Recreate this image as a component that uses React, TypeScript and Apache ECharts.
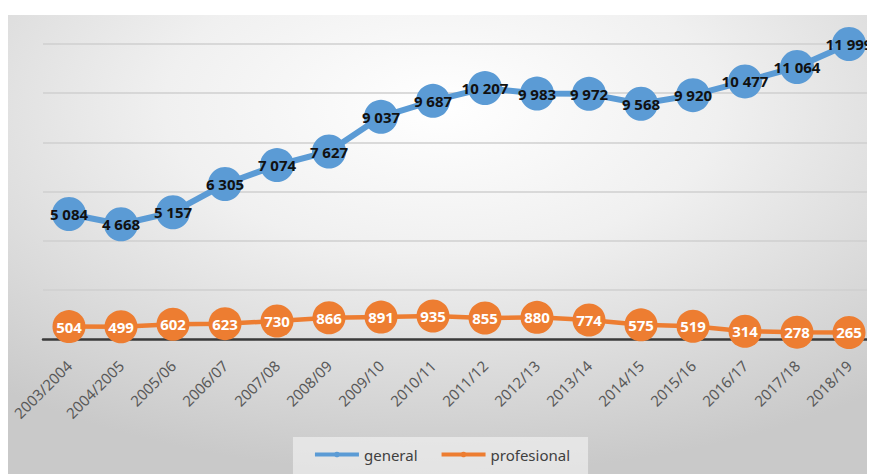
import React, { useEffect, useRef } from "react";
import * as echarts from "echarts";

const categories = [
  "2003/2004", "2004/2005", "2005/06", "2006/07", "2007/08", "2008/09", "2009/10", "2010/11",
  "2011/12", "2012/13", "2013/14", "2014/15", "2015/16", "2016/17", "2017/18", "2018/19",
];
const generalValues = [5084, 4668, 5157, 6305, 7074, 7627, 9037, 9687, 10207, 9983, 9972, 9568, 9920, 10477, 11064, 11999];
const profesionalValues = [504, 499, 602, 623, 730, 866, 891, 935, 855, 880, 774, 575, 519, 314, 278, 265];
const seriesNames = ["general", "profesional"];

const fmt = (v: number) => {
  const s = String(v);
  return s.length > 3 ? s.slice(0, s.length - 3) + " " + s.slice(s.length - 3) : s;
};

export default function App() {
  const ref = useRef<HTMLDivElement>(null);
  useEffect(() => {
    if (!ref.current) return;
    const chart = echarts.init(ref.current, null, { renderer: "svg" });
    const font = "'Noto Sans', 'Open Sans', sans-serif";
    chart.setOption({
      animation: false,
      graphic: [
        {
          type: "rect",
          z: -10,
          silent: true,
          shape: { x: 0, y: 7, width: 867, height: 459 },
          style: {
            fill: new echarts.graphic.RadialGradient(0.5, 0.2, 0.8, [
              { offset: 0, color: "#ffffff" },
              { offset: 0.4, color: "#f0f0f0" },
              { offset: 1, color: "#c9c9c9" },
            ]),
          },
        },
      ],
      grid: { left: 35, right: 0, top: 36, bottom: 135, containLabel: false },
      legend: {
        bottom: 0,
        left: "center",
        itemWidth: 44,
        itemHeight: 7,
        itemGap: 22,
        padding: [10, 18, 12, 20],
        backgroundColor: "rgba(245,245,245,0.6)",
        lineStyle: { width: 4 },
        textStyle: { fontFamily: font, fontSize: 15, color: "#404040" },
        data: seriesNames,
      },
      xAxis: {
        type: "category",
        data: categories,
        boundaryGap: true,
        axisLine: { lineStyle: { color: "#3a3a3a", width: 2.5 } },
        axisTick: { show: false },
        axisLabel: {
          rotate: 45,
          margin: 24,
          interval: 0,
          fontFamily: font,
          fontSize: 15,
          color: "#595959",
        },
      },
      yAxis: {
        type: "value",
        min: 0,
        max: 12000,
        interval: 2000,
        axisLabel: { show: false },
        axisLine: { show: false },
        axisTick: { show: false },
        splitLine: { lineStyle: { color: "#cfcfcf", width: 1.5 } },
      },
      series: [
        {
          name: seriesNames[0],
          type: "line",
          data: generalValues,
          symbol: "circle",
          symbolSize: 34,
          lineStyle: { color: "#5B9BD5", width: 6 },
          itemStyle: { color: "#5B9BD5" },
          label: {
            show: true,
            position: "inside",
            formatter: (p: any) => fmt(p.value),
            fontFamily: font,
            fontWeight: "bold",
            fontSize: 15,
            color: "#111111",
          },
          z: 3,
        },
        {
          name: seriesNames[1],
          type: "line",
          data: profesionalValues,
          symbol: "circle",
          symbolSize: 33,
          lineStyle: { color: "#ED7D31", width: 4.5 },
          itemStyle: { color: "#ED7D31" },
          label: {
            show: true,
            position: "inside",
            formatter: (p: any) => fmt(p.value),
            fontFamily: font,
            fontWeight: "bold",
            fontSize: 15,
            color: "#ffffff",
          },
          z: 4,
        },
      ],
    });
    return () => chart.dispose();
  }, []);
  return <div ref={ref} style={{ width: 867, height: 466 }} />;
}
